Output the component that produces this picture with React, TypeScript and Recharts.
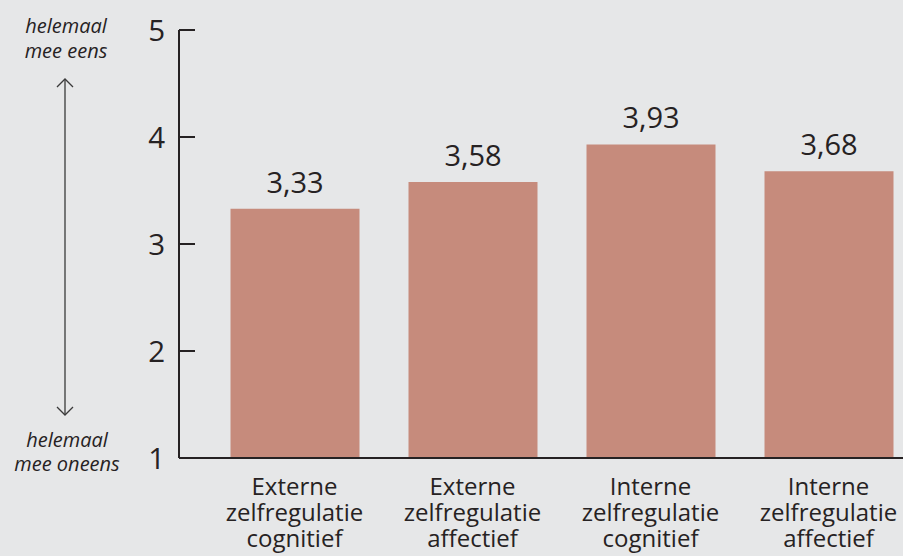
import { BarChart, Bar, XAxis, YAxis, LabelList } from "recharts";

const categories = [
  "Externe zelfregulatie cognitief",
  "Externe zelfregulatie affectief",
  "Interne zelfregulatie cognitief",
  "Interne zelfregulatie affectief",
];
const means = [3.33, 3.58, 3.93, 3.68];
const yTicks = [1, 2, 3, 4, 5];
const topLabel = ["helemaal", "mee eens"];
const bottomLabel = ["helemaal", "mee oneens"];

const INK = "#262223";
const BAR = "#c68b7c";
const BG = "#e6e7e8";
const FONT = "'Open Sans', sans-serif";

const data = categories.map((name, i) => ({ name, value: means[i] }));

const fmt = (v: number) => v.toFixed(2).replace(".", ",");

function YTick(props: any) {
  const { x, y, payload } = props;
  return (
    <g>
      <text x={x} y={y} dy={11} textAnchor="end" fontSize={29.5} fill={INK} fontFamily={FONT}>
        {payload.value}
      </text>
      <line x1={x + 14} x2={x + 30} y1={y} y2={y} stroke={INK} strokeWidth={2} />
    </g>
  );
}

function XTick(props: any) {
  const { x, y, payload } = props;
  const words = String(payload.value).split(" ");
  return (
    <text x={x} y={y} textAnchor="middle" fontSize={24} fill={INK} fontFamily={FONT}>
      {words.map((w, i) => (
        <tspan key={i} x={x} dy={i === 0 ? 37 : 26}>
          {w}
        </tspan>
      ))}
    </text>
  );
}

export default function App() {
  return (
    <div style={{ position: "absolute", left: 0, top: 0, width: 903, height: 556, background: BG, overflow: "hidden" }}>
      <svg width={140} height={556} style={{ position: "absolute", left: 0, top: 0 }}>
        <text textAnchor="middle" fontSize={20} fontStyle="italic" fill={INK} fontFamily={FONT}>
          {topLabel.map((t, i) => (
            <tspan key={i} x={66} y={33 + i * 25}>
              {t}
            </tspan>
          ))}
        </text>
        <line x1={65} x2={65} y1={79} y2={415} stroke="#3a3a3a" strokeWidth={1.3} />
        <polyline points="57,87 65,79 73,87" fill="none" stroke="#3a3a3a" strokeWidth={1.3} />
        <polyline points="57,407 65,415 73,407" fill="none" stroke="#3a3a3a" strokeWidth={1.3} />
        <text textAnchor="middle" fontSize={20} fontStyle="italic" fill={INK} fontFamily={FONT}>
          {bottomLabel.map((t, i) => (
            <tspan key={i} x={67} y={447 + i * 24}>
              {t}
            </tspan>
          ))}
        </text>
      </svg>
      <div style={{ position: "absolute", left: 0, top: 0 }}>
        <BarChart width={903} height={556} data={data} margin={{ top: 30, right: -14.5, left: 0, bottom: 68 }}>
          <XAxis
            dataKey="name"
            height={30}
            tick={<XTick />}
            tickLine={false}
            tickSize={0}
            tickMargin={0}
            axisLine={{ stroke: INK, strokeWidth: 2 }}
            padding={{ left: 26.5, right: 0 }}
            interval={0}
          />
          <YAxis
            domain={[1, 5]}
            ticks={yTicks}
            width={179}
            tickSize={0}
            tickMargin={14}
            tick={<YTick />}
            tickLine={false}
            axisLine={{ stroke: INK, strokeWidth: 2 }}
            allowDataOverflow
          />
          <Bar dataKey="value" fill={BAR} barSize={129} isAnimationActive={false}>
            <LabelList
              dataKey="value"
              position="top"
              offset={16}
              formatter={(v: any) => fmt(Number(v))}
              style={{ fontSize: 29, fill: INK, fontFamily: FONT }}
            />
          </Bar>
        </BarChart>
      </div>
    </div>
  );
}
